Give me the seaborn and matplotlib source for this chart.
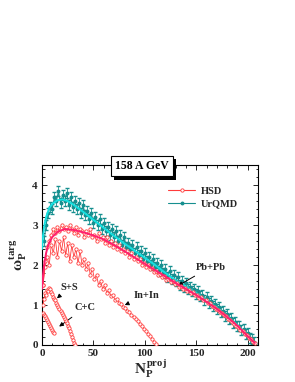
import numpy as np
import matplotlib
matplotlib.use('Agg')
import matplotlib.pyplot as plt
import matplotlib.patheffects as pe
import seaborn as sns
from matplotlib.ticker import MultipleLocator
from matplotlib.lines import Line2D

# =====================================
# DATA
# =====================================

# Pb+Pb HSD points, N = 1,3,...,207
pb_hsd_n = np.arange(1, 208, 2)
pb_hsd = [
    1.5, 2.1, 2.45, 2.6, 2.75, 2.9, 2.8, 2.95, 2.85, 3.0,
    2.9, 2.95, 2.85, 3.0, 2.9, 2.8, 2.95, 2.75, 2.9, 2.85,
    2.7, 2.85, 2.75, 2.9, 2.7, 2.75, 2.6, 2.8, 2.65, 2.7,
    2.55, 2.7, 2.5, 2.6, 2.45, 2.55, 2.4, 2.5, 2.35, 2.4,
    2.3, 2.35, 2.2, 2.3, 2.15, 2.2, 2.1, 2.15, 2.0, 2.05,
    1.95, 2.0, 1.9, 1.92, 1.82, 1.85, 1.75, 1.78, 1.7, 1.72,
    1.62, 1.66, 1.58, 1.6, 1.52, 1.55, 1.46, 1.48, 1.4, 1.43,
    1.36, 1.37, 1.3, 1.32, 1.24, 1.25, 1.18, 1.2, 1.12, 1.12,
    1.05, 1.04, 0.98, 0.96, 0.9, 0.88, 0.82, 0.8, 0.74, 0.72,
    0.66, 0.62, 0.57, 0.53, 0.48, 0.44, 0.38, 0.34, 0.28, 0.24,
    0.18, 0.14, 0.08, 0.05,
]

# Pb+Pb UrQMD points, N = 2,4,...,206
pb_urq_n = np.arange(2, 207, 2)
pb_urq = [
    2.6, 3.0, 3.3, 3.45, 3.4, 3.7, 3.6, 3.85, 3.55, 3.75,
    3.6, 3.8, 3.5, 3.7, 3.45, 3.6, 3.4, 3.55, 3.3, 3.5,
    3.25, 3.35, 3.15, 3.3, 3.05, 3.2, 3.0, 3.15, 2.9, 3.05,
    2.85, 2.95, 2.75, 2.9, 2.7, 2.85, 2.6, 2.75, 2.5, 2.7,
    2.45, 2.55, 2.4, 2.5, 2.3, 2.45, 2.25, 2.35, 2.15, 2.3,
    2.1, 2.2, 2.0, 2.15, 1.95, 2.05, 1.85, 2.0, 1.8, 1.9,
    1.7, 1.85, 1.65, 1.75, 1.6, 1.7, 1.5, 1.6, 1.45, 1.55,
    1.4, 1.45, 1.35, 1.4, 1.28, 1.35, 1.22, 1.25, 1.12, 1.2,
    1.05, 1.1, 0.98, 1.02, 0.9, 0.95, 0.82, 0.85, 0.72, 0.78,
    0.65, 0.68, 0.55, 0.58, 0.48, 0.48, 0.38, 0.4, 0.28, 0.3,
    0.18, 0.15, 0.08,
]
pb_urq_err = 0.12

# smooth curves
pb_hsd_fit_n = [0, 1, 2, 4, 6, 10, 15, 22, 30, 40, 50, 60, 70, 80, 90, 100,
                110, 120, 130, 140, 150, 160, 170, 180, 190, 200, 207]
pb_hsd_fit = [1.4, 1.75, 2.0, 2.3, 2.5, 2.7, 2.83, 2.9, 2.88, 2.82, 2.74, 2.64,
              2.5, 2.35, 2.19, 2.03, 1.87, 1.71, 1.55, 1.4, 1.25, 1.08, 0.9,
              0.7, 0.48, 0.22, 0.05]
pb_urq_fit_n = [0, 1, 2, 4, 7, 10, 15, 20, 25, 30, 40, 50, 60, 70, 80, 90, 100,
                110, 120, 130, 140, 150, 160, 170, 180, 190, 200, 205, 210]
pb_urq_fit = [2.4, 2.75, 2.95, 3.2, 3.42, 3.53, 3.62, 3.64, 3.6, 3.52, 3.33,
              3.13, 2.93, 2.73, 2.54, 2.36, 2.18, 2.0, 1.8, 1.62, 1.46, 1.3,
              1.12, 0.93, 0.72, 0.5, 0.24, 0.1, 0.02]

# In+In HSD, N = 1,3,...,111
inin_n = np.arange(1, 112, 2)
inin = [
    1.5, 1.95, 2.2, 2.0, 2.5, 2.3, 2.65, 2.2, 2.6, 2.35,
    2.7, 2.25, 2.55, 2.1, 2.5, 2.2, 2.4, 2.05, 2.35, 2.0,
    2.15, 1.9, 2.05, 1.75, 1.9, 1.65, 1.75, 1.5, 1.6, 1.4,
    1.5, 1.3, 1.38, 1.22, 1.25, 1.12, 1.15, 1.05, 1.02, 0.95,
    0.92, 0.85, 0.82, 0.75, 0.7, 0.65, 0.6, 0.52, 0.48, 0.4,
    0.35, 0.28, 0.22, 0.15, 0.08, 0.02,
]

# S+S HSD, N = 1..32
ss_n = np.arange(1, 33)
ss = [1.0, 1.15, 1.3, 1.25, 1.38, 1.35, 1.42, 1.4, 1.32, 1.28,
      1.2, 1.15, 1.12, 1.05, 1.0, 0.95, 0.9, 0.85, 0.8, 0.76,
      0.7, 0.66, 0.6, 0.54, 0.48, 0.42, 0.35, 0.28, 0.2, 0.13,
      0.06, 0.0]

# C+C HSD, N = 1..12
cc_n = np.arange(1, 13)
cc = [0.8, 0.75, 0.72, 0.68, 0.62, 0.58, 0.52, 0.48, 0.42, 0.38, 0.33, 0.3]

# =====================================
# STYLE
# =====================================

sns.set_theme(style='ticks')
plt.rcParams['font.family'] = ['Liberation Serif', 'DejaVu Serif']
plt.rcParams['font.weight'] = 'bold'
plt.rcParams['mathtext.fontset'] = 'custom'
plt.rcParams['mathtext.rm'] = 'Liberation Serif:bold'
plt.rcParams['mathtext.it'] = 'Liberation Serif:bold'
plt.rcParams['mathtext.bf'] = 'Liberation Serif:bold'

RED = '#ff3b3b'
MAG = '#ff1f6e'
TEAL = '#168f8f'
CYAN = '#14e0e0'

fig = plt.figure(figsize=(2.95, 3.82), dpi=100)
ax = fig.add_axes([0.1424, 0.0969, 0.732, 0.471])

# =====================================
# PLOT
# =====================================

ax.errorbar(pb_urq_n, pb_urq, yerr=pb_urq_err, color=TEAL, lw=0.7,
            marker='o', ms=1.8, capsize=1.2, elinewidth=0.6, zorder=2)
sns.lineplot(x=pb_urq_fit_n, y=pb_urq_fit, ax=ax, color=CYAN, lw=1.4,
             sort=False, estimator=None, zorder=3)

mk = dict(marker='o', markersize=2.4, markerfacecolor='white',
          markeredgecolor=RED, markeredgewidth=0.6, color=RED, lw=0.6,
          sort=False, estimator=None, zorder=4)
sns.lineplot(x=inin_n, y=inin, ax=ax, **mk)
sns.lineplot(x=ss_n, y=ss, ax=ax, **mk)
sns.lineplot(x=cc_n, y=cc, ax=ax, **mk)
sns.lineplot(x=pb_hsd_n, y=pb_hsd, ax=ax, **mk)
sns.lineplot(x=pb_hsd_fit_n, y=pb_hsd_fit, ax=ax, color=MAG, lw=1.4,
             sort=False, estimator=None, zorder=5)

# legend (manual handles)
h1 = Line2D([], [], color=RED, lw=0.8, marker='o', ms=2.4,
            markerfacecolor='white', markeredgecolor=RED, markeredgewidth=0.6)
h2 = Line2D([], [], color=TEAL, lw=0.8, marker='o', ms=1.8)
leg = ax.legend([h1, h2], ['HSD', 'UrQMD'], loc='upper left',
                bbox_to_anchor=(0.56, 0.91), frameon=False, fontsize=7.5,
                handlelength=2.6, handletextpad=0.5, labelspacing=0.35,
                borderpad=0)

# system labels with arrows
arr = dict(arrowstyle='-|>', color='black', lw=0.7, mutation_scale=6)
ax.annotate('S+S', xy=(12.5, 1.12), xytext=(27, 1.45), fontsize=7.5,
            ha='center', va='center', arrowprops=arr)
ax.annotate('C+C', xy=(14.5, 0.42), xytext=(41.5, 0.93), fontsize=7.5,
            ha='center', va='center', arrowprops=arr)
ax.annotate('In+In', xy=(78, 0.97), xytext=(102, 1.25), fontsize=7.5,
            ha='center', va='center', arrowprops=arr)
ax.annotate('Pb+Pb', xy=(130, 1.45), xytext=(164, 1.95), fontsize=7.5,
            ha='center', va='center', arrowprops=arr)

# title box with drop shadow
t = ax.text(0.462, 0.993, '158 A GeV', transform=ax.transAxes, fontsize=8.5,
            ha='center', va='center', color='black', zorder=10,
            bbox=dict(boxstyle='square,pad=0.35', fc='white', ec='black',
                      lw=0.8),
            clip_on=False)
t.get_bbox_patch().set_path_effects([
    pe.SimplePatchShadow(offset=(2.2, -2.2), shadow_rgbFace='black', alpha=1),
    pe.Normal(),
])

# axes
ax.set_xlim(0, 210)
ax.set_ylim(0, 4.5)
ax.xaxis.set_major_locator(MultipleLocator(50))
ax.xaxis.set_minor_locator(MultipleLocator(10))
ax.yaxis.set_major_locator(MultipleLocator(1))
ax.yaxis.set_minor_locator(MultipleLocator(0.2))
ax.tick_params(which='both', direction='in', top=True, right=True,
               labelsize=8, width=0.7, pad=3)
ax.tick_params(which='major', length=3.5)
ax.tick_params(which='minor', length=1.8)
for s in ax.spines.values():
    s.set_linewidth(0.8)
    s.set_color('black')

ax.set_xlabel(r'$N_P^{proj}$', fontsize=11, labelpad=0)
ax.set_ylabel(r'$\omega_P^{targ}$', fontsize=11, labelpad=2)

fig.savefig('out.png', dpi=100)
